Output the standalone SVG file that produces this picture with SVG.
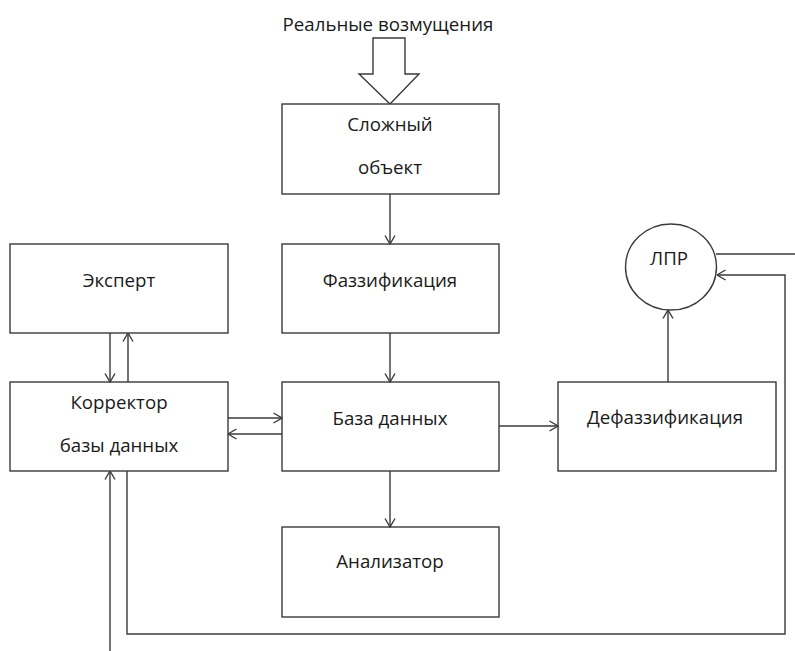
<svg xmlns="http://www.w3.org/2000/svg" width="795" height="651" viewBox="0 0 795 651">
  <style>
    .box { fill: #ffffff; stroke: #3a3a3a; stroke-width: 1.4; }
    .lbl { font-family: "Open Sans", "Noto Sans", sans-serif; font-size: 18.7px; fill: #1a1a1a; text-anchor: middle; }
    .wire { fill: none; stroke: #3a3a3a; stroke-width: 1.4; }
    .arr { marker-end: url(#head); }
  </style>
  <defs>
    <marker id="head" viewBox="0 0 10 12" markerWidth="10" markerHeight="12" refX="9.5" refY="6" orient="auto" markerUnits="userSpaceOnUse">
      <path d="M1,1 L9.5,6 L1,11" fill="none" stroke="#3a3a3a" stroke-width="1.4"/>
    </marker>
  </defs>
  <rect width="795" height="651" fill="#ffffff"/>

  <g id="disturbance">
    <text class="lbl" x="388" y="31">Реальные возмущения</text>
    <polygon class="box" points="373,38 405,38 405,74 419,74 390,104 359,74 373,74"/>
  </g>

  <g id="object">
    <rect class="box" x="282" y="104" width="217" height="90"/>
    <text class="lbl" x="390" y="131">Сложный</text>
    <text class="lbl" x="390" y="174">объект</text>
  </g>

  <g id="expert">
    <rect class="box" x="10" y="244" width="218" height="89"/>
    <text class="lbl" x="119" y="287">Эксперт</text>
  </g>

  <g id="fuzzification">
    <rect class="box" x="282" y="244" width="217" height="89"/>
    <text class="lbl" x="390" y="287">Фаззификация</text>
  </g>

  <g id="dm">
    <ellipse class="box" cx="671" cy="267" rx="45.5" ry="43"/>
    <text class="lbl" x="669" y="265">ЛПР</text>
  </g>

  <g id="corrector">
    <rect class="box" x="10" y="382" width="218" height="89"/>
    <text class="lbl" x="119" y="409">Корректор</text>
    <text class="lbl" x="119" y="452">базы данных</text>
  </g>

  <g id="database">
    <rect class="box" x="282" y="382" width="217" height="89"/>
    <text class="lbl" x="390" y="425">База данных</text>
  </g>

  <g id="defuzzification">
    <rect class="box" x="558" y="382" width="218" height="89"/>
    <text class="lbl" x="665" y="424">Дефаззификация</text>
  </g>

  <g id="analyzer">
    <rect class="box" x="282" y="527" width="217" height="90"/>
    <text class="lbl" x="390" y="568">Анализатор</text>
  </g>

  <g id="connectors">
    <line class="wire arr" x1="390" y1="194" x2="390" y2="244"/>
    <line class="wire arr" x1="390" y1="333" x2="390" y2="382"/>
    <line class="wire arr" x1="390" y1="471" x2="390" y2="527"/>
    <line class="wire arr" x1="110" y1="333" x2="110" y2="382"/>
    <line class="wire arr" x1="128" y1="382" x2="128" y2="333"/>
    <line class="wire arr" x1="228" y1="418" x2="282" y2="418"/>
    <line class="wire arr" x1="282" y1="434" x2="228" y2="434"/>
    <line class="wire arr" x1="499" y1="426" x2="558" y2="426"/>
    <line class="wire arr" x1="668" y1="382" x2="668" y2="310"/>
    <line class="wire" x1="716" y1="254" x2="795" y2="254"/>
    <polyline class="wire arr" points="127,471 127,634 785,634 785,275 717,275"/>
    <line class="wire arr" x1="110" y1="651" x2="110" y2="471"/>
  </g>
</svg>
